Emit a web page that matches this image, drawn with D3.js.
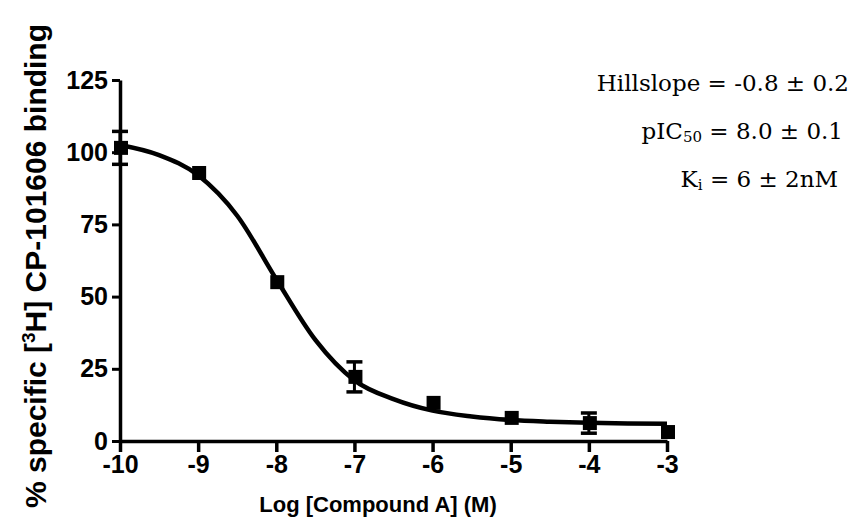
<!DOCTYPE html>
<html>
<head>
<meta charset="utf-8">
<script src="https://cdn.jsdelivr.net/npm/d3@7"></script>
<style>
  body { margin: 0; background: #fff; }
  svg { display: block; }
</style>
</head>
<body>
<div id="chart-area"></div>
<script>
const width = 862, height = 526;

// measured points (log M, % specific binding, SEM)
const logConc = [-10, -9, -8, -7, -6, -5, -4, -3];
const binding = [101.5, 92.8, 55, 22.2, 13.2, 8, 6.2, 3.1];
const sem = [5.7, 0, 0, 5.2, 0, 0, 3.5, 0];

// fitted curve
const fitX = [-10, -9.5, -9, -8.5, -8, -7.5, -7, -6.5, -6, -5.5, -5, -4.5, -4, -3.5, -3];
const fitY = [102.5, 99, 92, 78, 56, 35, 21, 14.5, 10.5, 8.5, 7.3, 6.7, 6.3, 6.1, 6];

const xTicks = [-10, -9, -8, -7, -6, -5, -4, -3];
const yTicks = [0, 25, 50, 75, 100, 125];

const statLines = ["Hillslope = -0.8 ± 0.2", "pIC50 = 8.0 ± 0.1", "Ki = 6 ± 2nM"];

const x = d3.scaleLinear().domain([-10, -3]).range([120, 667]);
const y = d3.scaleLinear().domain([0, 125]).range([441, 80]);

const svg = d3.select("#chart-area").append("svg")
    .attr("width", width)
    .attr("height", height);

const axisFont = "bold 25px 'Liberation Sans', Arial, sans-serif";

// x axis
svg.append("g")
    .attr("transform", `translate(0,${y(0)})`)
    .call(d3.axisBottom(x).tickValues(xTicks).tickFormat(d => String(d))
        .tickSize(11).tickSizeOuter(0).tickPadding(3))
    .call(g => g.select(".domain").attr("stroke-width", 3.5))
    .call(g => g.selectAll(".tick line").attr("stroke-width", 3.5))
    .call(g => g.selectAll(".tick text").style("font", axisFont).attr("fill", "#000"));

// y axis
svg.append("g")
    .attr("transform", `translate(${x(-10)},0)`)
    .call(d3.axisLeft(y).tickValues(yTicks).tickSize(8).tickSizeOuter(0).tickPadding(4))
    .call(g => g.select(".domain").attr("stroke-width", 3.5))
    .call(g => g.selectAll(".tick line").attr("stroke-width", 3))
    .call(g => g.selectAll(".tick text").style("font", axisFont).attr("fill", "#000"));

// axis titles
svg.append("text")
    .attr("x", 378).attr("y", 512)
    .attr("text-anchor", "middle")
    .style("font", "bold 22px 'Liberation Sans', Arial, sans-serif")
    .text("Log [Compound A] (M)");

const yTitle = svg.append("text")
    .attr("transform", "translate(46,266) rotate(-90)")
    .attr("text-anchor", "middle")
    .style("font", "bold 30px 'Liberation Sans', Arial, sans-serif");
yTitle.append("tspan").text("% specific [");
yTitle.append("tspan").attr("dy", -11).style("font-size", "19px").text("3");
yTitle.append("tspan").attr("dy", 11).text("H] CP-101606 binding");

// fitted curve
const line = d3.line()
    .x((d, i) => x(fitX[i]))
    .y(d => y(d))
    .curve(d3.curveMonotoneX);

svg.append("path")
    .datum(fitY)
    .attr("fill", "none")
    .attr("stroke", "#000")
    .attr("stroke-width", 4.5)
    .attr("d", line);

// error bars
const pts = logConc.map((c, i) => ({c, v: binding[i], e: sem[i]}));
const eb = svg.append("g").attr("stroke", "#000").attr("stroke-width", 3);
pts.filter(d => d.e > 0).forEach(d => {
    eb.append("line").attr("x1", x(d.c)).attr("x2", x(d.c))
        .attr("y1", y(d.v + d.e)).attr("y2", y(d.v - d.e));
    [d.v + d.e, d.v - d.e].forEach(v => {
        eb.append("line").attr("x1", x(d.c) - 8).attr("x2", x(d.c) + 8)
            .attr("y1", y(v)).attr("y2", y(v)).attr("stroke-width", 3.5);
    });
});

// squares
const sz = 14;
svg.append("g").selectAll("rect")
    .data(pts)
    .enter().append("rect")
    .attr("x", d => x(d.c) - sz / 2 + 1)
    .attr("y", d => y(d.v) - sz / 2)
    .attr("width", sz)
    .attr("height", sz)
    .attr("fill", "#000");

// fit statistics
const statFont = "23px 'DejaVu Serif', 'Liberation Serif', serif";
const s0 = svg.append("text").attr("x", 849).attr("y", 91).attr("text-anchor", "end")
    .style("font", statFont).text(statLines[0]);
const s1 = svg.append("text").attr("x", 843).attr("y", 139).attr("text-anchor", "end")
    .style("font", statFont);
s1.append("tspan").text("pIC");
s1.append("tspan").attr("font-size", "15px").attr("dy", 3).text("50");
s1.append("tspan").attr("dy", -3).text(" = 8.0 ± 0.1");
const s2 = svg.append("text").attr("x", 838).attr("y", 187).attr("text-anchor", "end")
    .style("font", statFont);
s2.append("tspan").text("K");
s2.append("tspan").attr("font-size", "15px").attr("dy", 3).text("i");
s2.append("tspan").attr("dy", -3).text(" = 6 ± 2nM");
</script>
</body>
</html>
